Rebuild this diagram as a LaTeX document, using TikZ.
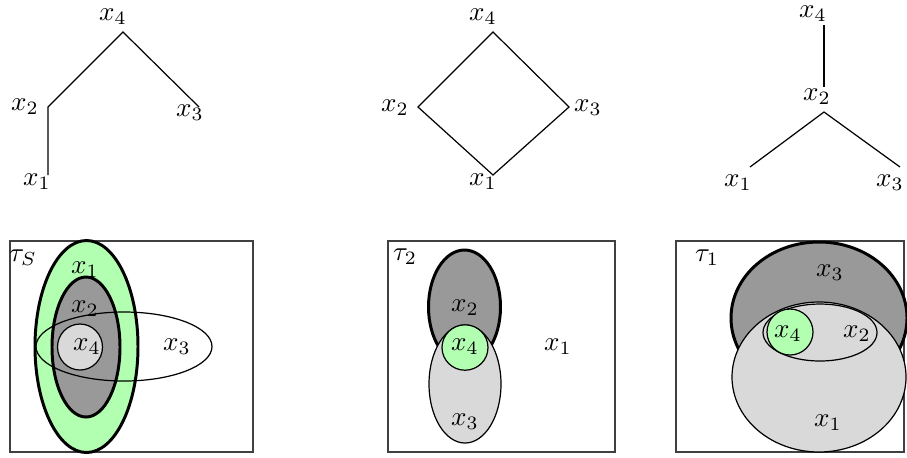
\documentclass[tikz,border=0pt]{standalone}
\usepackage{amsmath}
\definecolor{lgreen}{RGB}{178,255,178}
\definecolor{lgray}{RGB}{217,217,217}
\definecolor{dgray}{RGB}{153,153,153}
\tikzset{
  lbl/.style={inner sep=0pt, font=\normalsize},
  edge/.style={draw=black, line width=0.45pt},
  frame/.style={draw=black!75, line width=0.5pt},
  thickset/.style={draw=black, line width=1.1pt},
  thinset/.style={draw=black, line width=0.45pt},
}
\begin{document}
\begin{tikzpicture}[x=0.37pt, y=-0.37pt]
\useasboundingbox (0,0) rectangle (907,457);

% ---------- Tree 1 ----------
\coordinate (t1a4) at (123,32);
\coordinate (t1a2) at (48,107);
\coordinate (t1a1) at (48,175);
\coordinate (t1a3) at (199,107);
\draw[edge] (t1a1) -- (t1a2) -- (t1a4) -- (t1a3);
\node[lbl] (t1x4) at (113,17) {$x_4$};
\node[lbl] (t1x2) at (25,107) {$x_2$};
\node[lbl] (t1x3) at (190,113) {$x_3$};
\node[lbl] (t1x1) at (37,182) {$x_1$};

% ---------- Tree 2 ----------
\coordinate (t2a4) at (493,32);
\coordinate (t2a2) at (418,107);
\coordinate (t2a3) at (569,107);
\coordinate (t2a1) at (493,175);
\draw[edge] (t2a4) -- (t2a2) -- (t2a1) -- (t2a3) -- cycle;
\node[lbl] (t2x4) at (483,17) {$x_4$};
\node[lbl] (t2x2) at (395,108) {$x_2$};
\node[lbl] (t2x3) at (588,108) {$x_3$};
\node[lbl] (t2x1) at (483,182) {$x_1$};

% ---------- Tree 3 ----------
\coordinate (t3a4) at (824,25);
\coordinate (t3a2t) at (824,87);
\coordinate (t3a2) at (824,112);
\coordinate (t3a1) at (750,167);
\coordinate (t3a3) at (900,167);
\draw[edge] (t3a4) -- (t3a2t);
\draw[edge] (t3a1) -- (t3a2) -- (t3a3);
\node[lbl] (t3x4) at (813,14) {$x_4$};
\node[lbl] (t3x2) at (817,97) {$x_2$};
\node[lbl] (t3x1) at (738,183) {$x_1$};
\node[lbl] (t3x3) at (890,183) {$x_3$};

% ---------- Panel tau_S ----------
\draw[frame] (10,241) rectangle (253,452);
\node[lbl] (pSt) at (23,258) {$\tau_S$};
\path[thickset, fill=lgreen] (86.5,346.5) ellipse [x radius=51.5, y radius=106];
\path[thickset, fill=dgray] (86,347) ellipse [x radius=34, y radius=70];
\path[thinset, fill=lgray] (80,347) circle [x radius=22.5, y radius=23];
\path[thinset] (124,346.5) ellipse [x radius=88, y radius=34.5];
\node[lbl] (pSx1) at (85,270) {$x_1$};
\node[lbl] (pSx2) at (85,309) {$x_2$};
\node[lbl] (pSx4) at (87,347) {$x_4$};
\node[lbl] (pSx3) at (177,347) {$x_3$};

% ---------- Panel tau_2 ----------
\draw[frame] (388,241) rectangle (615,452);
\node[lbl] (p2t) at (405,257) {$\tau_2$};
\path[thickset, fill=dgray] (464.5,307) ellipse [x radius=36, y radius=57];
\path[thinset, fill=lgray] (465,384) ellipse [x radius=36, y radius=59];
\path[thinset, fill=lgreen] (465,347.5) circle [x radius=23, y radius=22.7];
\node[lbl] (p2x2) at (465,308) {$x_2$};
\node[lbl] (p2x4) at (465,347) {$x_4$};
\node[lbl] (p2x1) at (558,347) {$x_1$};
\node[lbl] (p2x3) at (465,422) {$x_3$};

% ---------- Panel tau_1 ----------
\draw[frame] (676,241) rectangle (904,452);
\node[lbl] (p1t) at (707,258) {$\tau_1$};
\path[thickset, fill=dgray] (819,318) ellipse [x radius=88, y radius=76];
\path[thinset, fill=lgray] (819,377) ellipse [x radius=87, y radius=75];
\path[thinset, fill=lgray] (820,332.5) ellipse [x radius=57, y radius=28.5];
\path[thinset, fill=lgreen] (790,332) circle [x radius=23, y radius=23];
\node[lbl] (p1x3) at (830,273) {$x_3$};
\node[lbl] (p1x2) at (857,334) {$x_2$};
\node[lbl] (p1x4) at (788,334) {$x_4$};
\node[lbl] (p1x1) at (828,423) {$x_1$};
\end{tikzpicture}
\end{document}
